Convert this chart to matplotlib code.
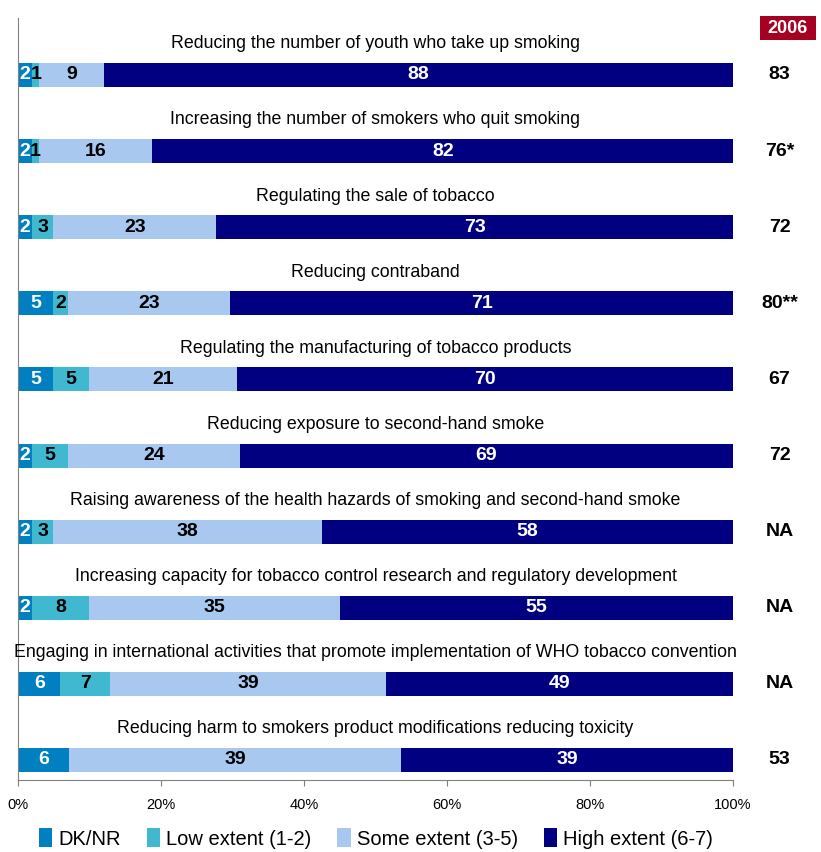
import matplotlib.pyplot as plt
from matplotlib.patches import Patch, Rectangle

plt.rcParams['font.family'] = ['Liberation Sans', 'DejaVu Sans']

# Items, top to bottom
items = [
    'Reducing the number of youth who take up smoking',
    'Increasing the number of smokers who quit smoking',
    'Regulating the sale of tobacco',
    'Reducing contraband',
    'Regulating the manufacturing of tobacco products',
    'Reducing exposure to second-hand smoke',
    'Raising awareness of the health hazards of smoking and second-hand smoke',
    'Increasing capacity for tobacco control research and regulatory development',
    'Engaging in international activities that promote implementation of WHO tobacco convention',
    'Reducing harm to smokers product modifications reducing toxicity',
]
dk_nr = [2, 2, 2, 5, 5, 2, 2, 2, 6, 6]
low_extent = [1, 1, 3, 2, 5, 5, 3, 8, 7, 0]
some_extent = [9, 16, 23, 23, 21, 24, 38, 35, 39, 39]
high_extent = [88, 82, 73, 71, 70, 69, 58, 55, 49, 39]
results_2006 = ['83', '76*', '72', '80**', '67', '72', 'NA', 'NA', 'NA', '53']

series = [
    ('DK/NR', dk_nr, '#0080C0', 'white'),
    ('Low extent (1-2)', low_extent, '#40B8D0', 'black'),
    ('Some extent (3-5)', some_extent, '#A8C8F0', 'black'),
    ('High extent (6-7)', high_extent, '#000080', 'white'),
]

fig = plt.figure(figsize=(8.21, 8.52), dpi=100)
ax = fig.add_axes([0.0219, 0.0845, 0.8709, 0.8944])

# 100% stacked: each row is scaled to its own total
totals = [sum(v) for v in zip(dk_nr, low_extent, some_extent, high_extent)]
left = [0.0] * len(items)
for name, vals, color, txt_color in series:
    widths = [100.0 * v / t for v, t in zip(vals, totals)]
    ax.barh(range(len(items)), widths, left=left, height=0.315,
            color=color, edgecolor='none')
    for i, (v, w) in enumerate(zip(vals, widths)):
        if v > 0:
            ax.text(left[i] + w / 2, i, str(v), ha='center', va='center',
                    fontsize=14, fontweight='bold', color=txt_color)
    left = [l + w for l, w in zip(left, widths)]

for i, label in enumerate(items):
    ax.text(50, i - 0.41, label, ha='center', va='center', fontsize=12.8)
    ax.text(106.5, i, results_2006[i], ha='center', va='center',
            fontsize=14, fontweight='bold', clip_on=False)

# 2006 header box
fig.patches.append(Rectangle((0.9257, 0.953), 0.0682, 0.028,
                             transform=fig.transFigure, facecolor='#A50021',
                             edgecolor='none'))
fig.text(0.9598, 0.967, '2006', ha='center', va='center', fontsize=13,
         fontweight='bold', color='white')

ax.set_xlim(0, 100)
ax.set_ylim(9.263, -0.749)
ax.set_xticks([0, 20, 40, 60, 80, 100])
ax.set_xticklabels(['0%', '20%', '40%', '60%', '80%', '100%'], fontsize=10.5)
ax.set_yticks([])
ax.tick_params(axis='x', direction='out', length=4, color='#808080', pad=9)
for side in ['top', 'right']:
    ax.spines[side].set_visible(False)
ax.spines['left'].set_color('#808080')
ax.spines['bottom'].set_color('#808080')

handles = [Patch(facecolor=c, edgecolor='none', label=n) for n, _, c, _ in series]
fig.legend(handles=handles, loc='center', bbox_to_anchor=(0.458, 0.016),
           ncol=4, frameon=False, fontsize=14.5, handlelength=0.65,
           handleheight=1.1, handletextpad=0.3, columnspacing=1.3)

fig.savefig('out.png', dpi=100)
